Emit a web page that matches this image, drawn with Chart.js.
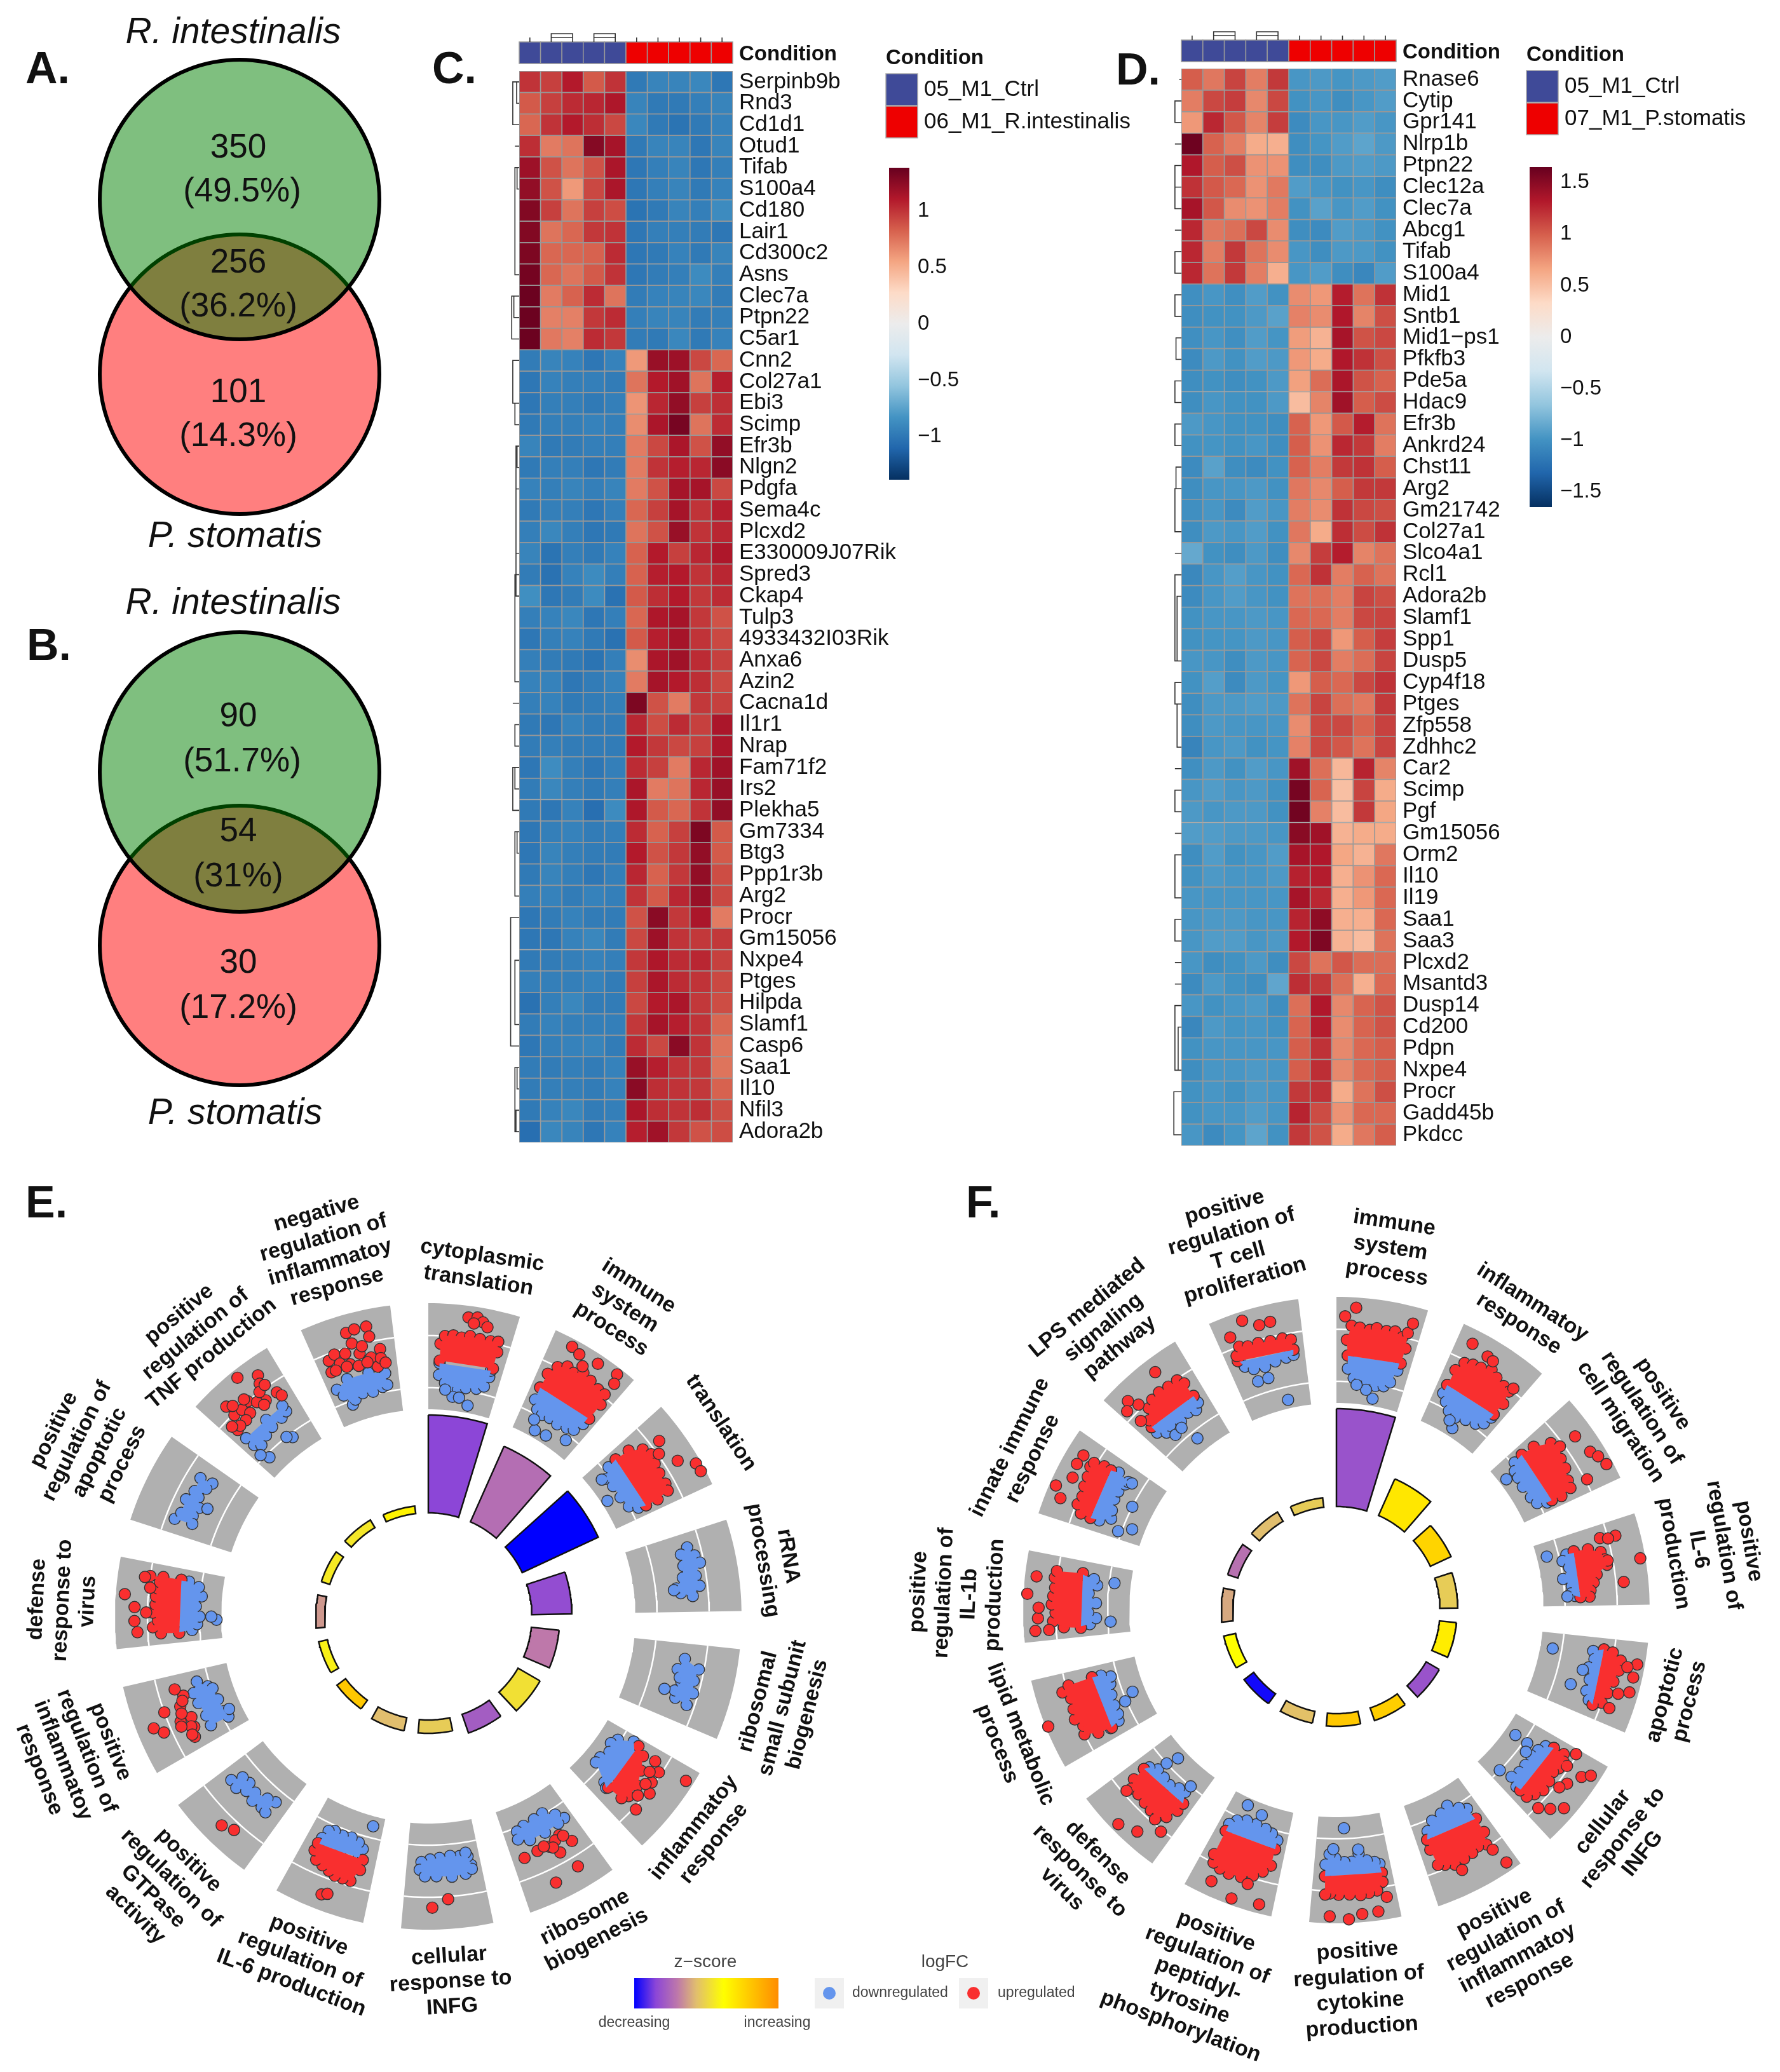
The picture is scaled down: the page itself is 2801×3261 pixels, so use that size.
<!DOCTYPE html>
<html>
<head>
<meta charset="utf-8">
<title>Venn, heatmap and GO circle panels</title>
<script src="https://cdn.jsdelivr.net/npm/chart.js@4/dist/chart.umd.js"></script>
<style>
  body { margin: 0; background: #fff; width: 2801px; height: 3261px; position: relative; overflow: hidden; }
  canvas { position: absolute; }
</style>
</head>
<body>
<script>
// ## DATA ##

const vennNames = ["R. intestinalis", "P. stomatis"];
const aCounts = [350, 256, 101];
const aShares = ["(49.5%)", "(36.2%)", "(14.3%)"];
const bCounts = [90, 54, 30];
const bShares = ["(51.7%)", "(31%)", "(17.2%)"];

const cGenes = ["Serpinb9b","Rnd3","Cd1d1","Otud1","Tifab","S100a4","Cd180","Lair1","Cd300c2","Asns","Clec7a","Ptpn22","C5ar1","Cnn2","Col27a1","Ebi3","Scimp","Efr3b","Nlgn2","Pdgfa","Sema4c","Plcxd2","E330009J07Rik","Spred3","Ckap4","Tulp3","4933432I03Rik","Anxa6","Azin2","Cacna1d","Il1r1","Nrap","Fam71f2","Irs2","Plekha5","Gm7334","Btg3","Ppp1r3b","Arg2","Procr","Gm15056","Nxpe4","Ptges","Hilpda","Slamf1","Casp6","Saa1","Il10","Nfil3","Adora2b"];
const cZ = [
[1,.95,1.1,.85,1,-.98,-.92,-.92,-.9,-1],[.85,.95,1.03,1.05,1.12,-.92,-.98,-.98,-.95,-.92],[.8,1,1.1,1.02,.92,-.9,-.98,-1.02,-.98,-.93],
[1.02,.72,.75,1.27,1.15,-.98,-.92,-.92,-1,-.92],[1.18,.88,.75,.88,1.13,-1,-.95,-.92,-1,-.95],[1.22,.88,.6,.92,1.13,-1,-.95,-.92,-.98,-.93],
[1.28,.95,.75,.95,.9,-1.02,-.98,-.92,-.95,-.88],[1.28,.75,.8,.98,1,-1,-.95,-.95,-.97,-1],[1.3,.8,.8,.82,1.03,-1,-.98,-.93,-.98,-.92],
[1.33,.8,.75,.85,1,-1,-.97,-.95,-.88,-.95],[1.36,.72,.82,1.03,.75,-.97,-.93,-.92,-.9,-.97],[1.36,.7,.7,.98,1.03,-.95,-.92,-.92,-.97,-.95],
[1.36,.73,.7,1.03,.98,-.97,-.98,-.9,-.98,-.93],[-.97,-.92,-.93,-1,-.93,.6,1.2,1.18,.92,.8],[-1,-.93,-.95,-.95,-.97,.75,1.1,1.17,.75,1.08],
[-1,-.95,-.95,-.98,-.95,.62,1.05,1.22,.95,1.02],[-.98,-.95,-.95,-.93,-.95,.65,1.13,1.32,.75,1.03],[-.92,-.98,-.97,-.95,-.95,.72,.92,1.13,.88,1.22],
[-.98,-.95,-.95,-1,-.97,.72,1,1.08,1.05,1.25],[-.93,-.95,-.92,-.95,-.92,.72,.88,1.15,1.15,.92],[-.98,-.95,-.95,-1,-.95,.8,.95,1.15,1,1.08],
[-.95,-.9,-.95,-1,-.98,.75,.88,1.2,1,1.05],[-.92,-1.02,-.95,-.98,-.93,.82,1.1,.95,1.05,1.12],[-.97,-1.03,-.93,-.88,-.95,.82,1.08,1.1,1,1.05],
[-.85,-1,-.97,-.88,-1.03,.85,1.02,1.1,.98,1.03],[-.95,-.93,-.9,-1,-.95,.8,1.12,1.15,.98,.88],[-1,-.95,-.93,-.98,-1.03,.85,1.08,1.15,1,.92],
[-.95,-.97,-.98,-1.02,-.95,.65,1.13,1.17,1.03,.95],[-.93,-.93,-1,-.97,-.93,.72,1.15,1.1,1.02,.92],[-.95,-.93,-.98,-.97,-.95,1.3,.88,.72,.98,.95],
[-.98,-1,-.93,-.97,-.97,1.05,.9,1.03,.95,1.13],[-.97,-.95,-.97,-.97,-.97,1.1,.98,.92,.95,1.13],[-1,-.87,-.95,-1,-.95,1.03,.95,.72,1.05,1.17],
[-.97,-.9,-.95,-.98,-.95,1.13,.72,.75,1.05,1.2],[-.98,-1,-.93,-1.05,-.88,1.12,.85,.8,1,1.22],[-1,-.95,-.93,-.97,-.95,1.03,.82,.95,1.3,.85],
[-1,-.92,-.95,-.97,-.97,1.1,.88,.98,1.22,.85],[-.98,-.92,-.95,-1,-.95,1.05,.82,.98,1.22,.9],[-.95,-.93,-.97,-.93,-.95,1,.85,1.05,1.2,.92],
[-1,-.97,-.93,-.97,-.97,.88,1.25,.98,1.13,.72],[-1,-1,-.93,-.9,-.97,.92,1.18,1,.98,.98],[-.98,-.97,-.95,-.93,-.95,.98,1.12,1.03,1.05,.95],
[-.95,-.95,-.95,-.93,-.97,.95,1.13,1.03,1,.92],[-1.03,-.95,-.9,-.97,-.97,.92,1.1,1.13,.98,.9],[-.97,-.93,-.95,-.95,-.95,.98,1.15,1.08,1,.8],
[-1,-.95,-.93,-.92,-.97,1.03,.92,1.25,1,.75],[-.97,-.97,-.95,-.97,-.93,1.2,1.08,1,.98,.75],[-.97,-.95,-.95,-.97,-.93,1.25,1.02,1,.98,.82],
[-.98,-.93,-.9,-.97,-.95,1.13,1.02,1,1.02,.9],[-1.05,-.9,-.92,-1,-.93,1.08,1.17,.98,.88,.9]
];
const cDendro = [[0,1,.12],[0,2,.3],[3,3,.2],[4,5,.1],[4,9,.2],[10,11,.25],[10,12,.35],[13,15,.3],[15,16,.2],[17,18,.1],[17,22,.15],[19,24,.15],[23,28,.2],[29,29,.3],[30,31,.2],[32,33,.2],[32,34,.3],[35,38,.2],[35,36,.1],[39,45,.4],[41,44,.2],[46,49,.2],[46,47,.1],[48,49,.15]];

const dGenes = ["Rnase6","Cytip","Gpr141","Nlrp1b","Ptpn22","Clec12a","Clec7a","Abcg1","Tifab","S100a4","Mid1","Sntb1","Mid1\u2212ps1","Pfkfb3","Pde5a","Hdac9","Efr3b","Ankrd24","Chst11","Arg2","Gm21742","Col27a1","Slco4a1","Rcl1","Adora2b","Slamf1","Spp1","Dusp5","Cyp4f18","Ptges","Zfp558","Zdhhc2","Car2","Scimp","Pgf","Gm15056","Orm2","Il10","Il19","Saa1","Saa3","Plcxd2","Msantd3","Dusp14","Cd200","Pdpn","Nxpe4","Procr","Gadd45b","Pkdcc"];
const dZ = [
[1,.88,1.12,.85,1.17,-.97,-.95,-.98,-.95,-.93],[.85,1.1,1.15,.8,1.1,-1,-.97,-1.03,-.97,-.93],[.72,1.25,1.03,.82,1.15,-1.05,-.97,-.97,-.93,-.97],
[1.62,.98,.85,.62,.6,-1.03,-.98,-.93,-.88,-.95],[1.33,1,1.07,.75,.75,-1.03,-1.03,-.95,-.93,-.95],[1.2,1.02,.95,.75,.87,-.93,-.97,-1,-.97,-1.03],
[1.37,1.03,.78,.75,.85,-1,-.9,-.97,-.93,-1],[1.25,.88,.92,1.1,.78,-1.03,-1.05,-.93,-.95,-1],[1.25,.85,1.17,.9,.78,-.97,-1.03,-.95,-.95,-1],
[1.25,.9,1.17,.85,.6,-.97,-.93,-1.03,-1.08,-.93],[-1.02,-.97,-1.02,-.93,-1,.78,.72,1.3,.9,1.2],[-1.03,-1,-1,-.95,-.9,.83,.78,1.33,.82,1.07],
[-1.02,-.97,-1.02,-.93,-.98,.7,.58,1.37,1.05,1.1],[-1.05,-.95,-1,-.93,-.95,.72,.62,1.33,1.2,1.07],[-1.03,-1,-1.03,-1,-.95,.68,.93,1.35,1.05,.98],
[-1.03,-.97,-1,-1,-.95,.52,.82,1.4,1,1.08],[-.95,-.97,-1,-1,-1.03,.98,.72,1.02,1.3,.9],[-1,-.98,-1,-.97,-1.03,1,.75,1.25,1.17,.85],
[-1.05,-.9,-1.03,-1.05,-1,.98,.85,1.17,1.2,1],[-1.03,-.97,-.97,-.95,-1,.88,.8,1,1.17,1.17],[-1.02,-.97,-1.05,-.93,-.97,.85,.78,1.2,1.1,1.07],
[-1.03,-.95,-.97,-.93,-1,.88,.62,1.22,1.08,1.2],[-.85,-1,-1.03,-.95,-1.03,.8,1.15,1.3,.82,.9],[-1.07,-.97,-.92,-.97,-1,.95,1.2,.85,.98,.9],
[-1.05,-.97,-.93,-.97,-1,.9,.92,.85,1.12,1.07],[-1,-.97,-.97,-.95,-.97,.95,.95,.85,1.1,1.12],[-1,-.98,-.98,-.95,-.97,1,1.1,.72,1,1.15],
[-.97,-.97,-1.03,-.95,-.97,.97,1.1,.85,.93,1.12],[-1,-.92,-1.05,-.95,-.98,.72,1,.95,1.1,1.2],[-1.03,-.95,-.95,-.93,-.95,.9,1.12,.92,.87,1.17],
[-1.03,-.95,-.97,-.97,-.97,.78,1.1,1.1,.97,1.13],[-1.1,-.97,-.95,-1,-.98,.83,1.1,1.03,.9,1.12],[-1.02,-.95,-1,-.93,-.97,1.4,.92,.55,1.27,.82],
[-.97,-.93,-.97,-.95,-1,1.58,.97,.5,1.12,.62],[-.95,-.97,-.95,-.95,-1,1.6,.83,.52,1.17,.65],[-.93,-.93,-.95,-.95,-.97,1.5,1.4,.58,.62,.62],
[-1.03,-.93,-1,-.97,-.93,1.37,1.33,.65,.58,.88],[-1,-.95,-.97,-.97,-.95,1.28,1.3,.6,.75,.95],[-.97,-.97,-.97,-.97,-.97,1.37,1.25,.6,.72,.95],
[-.97,-.95,-.95,-.97,-.97,1.27,1.48,.6,.6,.95],[-.97,-.93,-.93,-.97,-.95,1.32,1.55,.58,.52,.9],[-.97,-1.03,-1,-.95,-1.03,1.1,.9,1.03,.93,.93],
[-1.05,-.95,-1,-1.03,-.87,1.22,1.17,.92,.6,.95],[-.97,-1,-.97,-.95,-1.03,.92,1.33,.8,.97,1.05],[-1.08,-.95,-.98,-.97,-1,.97,1.3,.78,.97,1.05],
[-1,-.97,-.97,-.97,-.97,1,1.2,.8,.95,1],[-1.03,-.97,-.97,-.95,-.97,1,1.22,.8,.95,1],[-1,-.97,-1,-.95,-.97,1.17,1.2,.62,.9,1.07],
[-1,-.97,-.97,-.93,-.97,1.27,1.08,.75,.95,.95],[-.97,-1.05,-.98,-.88,-1,1.17,1.05,.62,.88,1]
];
const dDendro = [[0,0,.1],[1,2,.3],[3,3,.3],[4,5,.3],[5,6,.3],[7,7,.3],[8,9,.3],[10,11,.3],[12,13,.25],[14,15,.3],[16,17,.3],[18,19,.25],[19,21,.3],[22,22,.3],[23,27,.3],[24,27,.2],[28,29,.3],[29,31,.2],[32,32,.3],[33,34,.3],[35,35,.3],[36,38,.3],[39,40,.3],[41,41,.3],[42,42,.3],[43,46,.3],[44,46,.15],[47,49,.35]];

const colDendroBoxes = [[1.5, 2.5], [3.5, 4.5]];
const colTreatment = ["#3f4a98", "#3f4a98", "#3f4a98", "#3f4a98", "#3f4a98", "#ee0000", "#ee0000", "#ee0000", "#ee0000", "#ee0000"];

const eTerms = [["cytoplasmic","translation"],["immune","system","process"],["translation"],["rRNA","processing"],["ribosomal","small subunit","biogenesis"],["inflammatoy","response"],["ribosome","biogenesis"],["cellular","response to","INFG"],["positive","regulation of","IL-6 production"],["positive","regulation of","GTPase","activity"],["positive","regulation of","inflammatoy","response"],["defense","response to","virus"],["positive","regulation of","apoptotic","process"],["positive","regulation of","TNF production"],["negative","regulation of","inflammatoy","response"]];
const eBars = [15.4,13,13.2,6.3,4.4,4,3.1,2.1,2.1,1.7,1.4,1.4,1.4,1.4,1.2];
const eZscore = [-.7,-.46,-1,-.66,-.4,.06,-.56,-.06,-.14,.6,.16,-.28,.12,.1,.32];
// each pair below is position across the sector (0-100), logFC
const eUpRings = [
[15,.05,15,.7,20,1,30,1.05,40,1,50,1.1,62,1.05,75,1.05,84,1.1,86,.7,86,.05],
[12,0,13,.6,20,1,30,1.2,40,1.1,50,1.3,62,1.2,75,1.1,85,1.1,89,.7,89,0],
[12,-.4,14,.2,24,.65,35,.8,47,.7,60,.65,75,.65,84,.6,88,.1,88,-.4],
[],[],
[10,-.3,18,.05,35,.3,53,.55,70,.55,78,.4,80,-.25],
[],[],
[18,-.1,18,.3,26,.8,36,.8,46,.8,55,.7,65,.6,75,.5,82,.2,82,-.1],
[],[],
[13,-.2,14,.5,22,.8,30,.6,40,.8,50,.7,60,.7,70,.65,78,.6,84,1,85,.5,85,-.2],
[],[],[]
];
const eUpDots = [
[45,1.8,55,1.85,62,1.7,52,1.6,68,1.55],
[24,1.95,35,1.83,58,1.9,82,2,86,1.65,45,1.5],
[28,1.35,59,1.5,72,2.05,82,2.07,40,1.05],
[],[],
[15,.55,24,.9,39,.9,51,1.1,76,1.1,15,1.95,30,.6,45,.75,62,.8,68,.3],
[30,0,20,.45,49,.2,40,.6,65,.15,84,.2,30,1.4,61,1.55,38,.1,26,.1,45,.3,55,.1],
[66,1.4,47,1.1],
[53,1.65,47,1.55],
[51,1.5,37,1.3],
[28,.15,41,.1,41,.55,71,.1,82,.35,59,.35,59,1,46,1.6,37,1.3,16,.3,30,.25,20,.35,50,.4,65,.2,35,.6],
[60,1.9,46,1.5,30,1.5,17,1.4,82,1.2,70,.95,40,1.05],
[],
[55,1.95,14,.45,24,1.4,75,1.55,82,.6,71,1.25,47,1,24,.95,65,.6,35,.9,40,.6,30,.5,55,.75,65,1,75,1.1,20,.5,45,1.15,85,.4,60,.5,30,1.25,12,.7],
[14,.3,16,.75,25,.9,28,.5,38,.8,49,1.1,40,.35,55,.65,60,.9,68,.4,74,0,81,.65,46,1.55,70,1.6,71,1.2,56,1.6,20,.3,50,.2,62,.25,35,.3,80,.3,85,.1]
];
const eDownRings = [
[15,-.05,15,-.5,24,-.8,34,-.9,44,-1,55,-.9,70,-.85,80,-.7,84,-.3,84,-.05],
[12,0,13,-.5,22,-.8,32,-.9,44,-.85,58,-.9,72,-.8,82,-.7,87,-.3,87,0],
[12,-.4,14,-.8,25,-1.15,40,-1.1,60,-1.1,78,-1,86,-.7,88,-.4],
[18,.5,30,.7,40,.85,55,.6,68,.7,80,.4,75,-.05,68,-.2,55,.1,40,.2,25,.2],
[20,.2,30,.8,45,.7,60,.8,76,.7,72,.2,63,.1,50,.25,35,0],
[8,-.55,18,-1.1,28,-1.25,40,-1.1,55,-1.25,65,-1.25,78,-.5,82,-.3,60,-.3,20,-.3],
[12,-.45,20,-.75,35,-1.05,50,-1,68,-.95,80,-.85,83,-.55,68,-.35,45,-.35,23,-.4],
[13,-.1,16,-.45,27,-.5,40,-.55,55,-.5,68,-.45,80,-.35,82,-.05,75,.2,60,.2,40,.25,22,.2,13,.05],
[24,-.15,22,-.5,30,-.7,42,-.8,55,-.75,68,-.8,76,-.7,80,-.35,80,-.1,50,-.15],
[20,-.55,32,-.45,50,-.3,65,-.4,77,-.35,84,.05,72,.1,60,-.1,45,0,30,-.05,22,0],
[84,-.55,73,-.9,68,-1.05,50,-1.1,30,-1.15,20,-1.2,20,-.45,35,-.45,55,-.35,70,-.3],
[14,-.2,16,-.7,24,-.9,35,-1,50,-.85,65,-1.05,78,-.9,84,-.5,84,-.2],
[18,.65,28,.5,46,.55,60,.4,78,.45,80,-.05,70,.05,55,.15,43,-.05,30,.05,20,-.05],
[14,0,15,-.4,22,-.6,36,-.45,50,-.35,68,-.3,78,-.2,78,.05,50,0],
[12,-.4,18,-.7,26,-1.15,32,-1,45,-.85,60,-.9,75,-.8,82,-.75,82,-.3,60,-.15,30,-.15]
];
const eDownDots = [
[37,-1.3,47,-1.3,62,-1.55,25,-1.05],[34,-1.55,53,-1.5,82,-1.2,25,-1.2],[54,-1.6,22,-1.3],[70,-.3],[65,-.3,45,.15],
[],[],[18,-.6],[16,-1.45],[],
[30,-1.35],[30,-1.65,35,-1.45],[47,-.35],[18,-1.15,64,-1.15,57,-1,11,-.85],[]
];

const fTerms = [["immune","system","process"],["inflammatoy","response"],["positive","regulation of","cell migration"],["positive","regulation of","IL-6","production"],["apoptotic","process"],["cellular","response to","INFG"],["positive","regulation of","inflammatoy","response"],["positive","regulation of","cytokine","production"],["positive","regulation of","peptidyl-","tyrosine","phosphorylation"],["defense","response to","virus"],["lipid metabolic","process"],["positive","regulation of","IL-1b","production"],["innate immune","response"],["LPS mediated","signaling","pathway"],["positive","regulation of","T cell","proliferation"]];
const fBars = [15.4,6.3,3.6,2.8,2.7,2.4,2.1,2,1.9,1.9,1.9,1.8,1.7,1.7,1.5];
const fZscore = [-.62,.4,.52,-.06,.36,-.62,.56,.6,-.12,-.96,.24,-.22,-.44,-.14,-.06];
const fUpRings = [
[15,0,13,.6,18,1.15,28,1.1,40,1.05,48,1.15,60,1.1,70,1.15,80,1,85,1.2,87,.6,86,0],
[13,-.15,14,.5,20,.9,30,1,40,1.05,52,1.2,62,1.05,75,.95,84,.9,88,.4,87,-.15],
[12,-.5,14,.05,24,.65,34,.85,47,.6,60,.55,75,.4,85,.35,89,-.1,88,-.5],
[24,-.4,26,.15,33,.6,43,.7,50,.75,60,.3,70,.15,80,0,88,-.05,88,-.4],
[14,.6,16,.95,24,1.3,36,1.3,50,1.2,65,1.1,78,1,84,.7],
[14,.1,14,.55,22,.7,32,.7,40,.6,52,.7,65,.75,76,.6,85,.45,85,.1],
[13,-.15,14,.45,20,.9,30,.8,40,.9,52,.95,65,1,76,.85,84,.75,86,.1,85,-.3],
[13,.45,14,.8,22,1.1,32,1.15,42,1.2,55,1.15,68,1.15,78,1.1,84,1.15,85,.45],
[14,-.3,14,.35,22,.65,32,.9,45,1.1,60,1.15,72,1.1,82,1,86,.7,86,-.3],
[85,-.2,83,.35,76,.65,65,.6,52,.65,40,.7,29,.75,20,.5,14,.05,14,-.3],
[14,-.05,16,.5,22,1,32,.9,43,1.1,55,1,68,.95,78,1.2,84,.9,86,-.05],
[12,.05,14,.7,22,1.1,32,1,42,1.15,52,1.1,62,1.05,74,1.1,82,1.05,84,.05],
[15,.3,16,.7,25,.95,36,.9,48,1,60,1.05,72,1.15,78,1.1,81,.7,81,.4],
[16,.2,20,.45,30,.8,40,.95,52,1,65,.95,78,.95,83,.7,84,.1],
[14,.5,15,.7,22,1,32,.9,45,.9,60,.85,75,.85,85,.75,86,.35]
];
const fUpDots = [
[22,1.85,88,1.6,10,1.5],[18,1.7,40,1.55,48,1.5,86,1.1],[35,1.55,59,1.7,68,1.87,80,2,85,1.07],
[16,.7,18,1.3,19,1,49,2.05,73,1.3,45,.8],[25,1.95,40,1.9,57,1.9,81,1.35,30,1.6,62,1.5],
[6,.95,41,1.3,25,1.6,18,1.87,65,1.8,76,1.43,85,1.07,24,.9,50,1.15],[12,1.9,17,1.2,60,1.3],
[78,1.98,57,2.1,24,1.9,42,1.93,12,1.4],[47,2,16,1.9,35,1.27,75,1.68],[78,.85,29,.85,56,1.95,35,1.65,14,1.07],
[47,2.15],[53,2.1,73,1.8,26,1.68,12,1.8,12,1.27,38,1.65],[79,1.6,35,2,24,1.65,51,1.55,67,1.65],
[63,1.7,24,1.17,18,1.55,9,1.3,12,.66],[35,1.9,52,1.55,65,1.57,16,1.45]
];
const fDownRings = [
[15,0,16,-.5,25,-.85,35,-.9,45,-1,58,-1.05,70,-1,78,-.8,84,-.3,84,0],
[13,-.15,13,-.5,22,-.75,32,-1,45,-1.1,60,-.95,75,-.85,84,-.65,87,-.3,87,-.15],
[12,-.5,14,-.9,24,-1.1,35,-1.15,50,-1.2,70,-1.15,82,-1.05,88,-.7,88,-.5],
[26,-.4,26,-.7,34,-.9,45,-.7,60,-1,72,-.7,82,-.75,86,-.6,88,-.4],
[14,.6,18,.2,28,.3,40,.15,55,.3,70,.3,80,.5,84,.7],
[14,.1,18,-.2,28,-.35,40,-.45,55,-.4,68,-.4,80,-.5,85,-.1,84,.1],
[14,-.15,16,-.65,25,-.85,38,-1.15,52,-1,68,-.9,80,-.6,85,-.3],
[13,.45,14,.1,20,0,30,-.1,40,-.4,50,-.1,60,-.1,72,-.25,80,-.4,85,0,85,.45],
[14,-.3,14,-.65,24,-.85,35,-.95,50,-1,65,-1,78,-.85,86,-.6,86,-.3],
[14,-.3,22,-.7,32,-.65,45,-.5,58,-.55,72,-.6,82,-.4,85,-.2],
[14,0,18,-.4,27,-.5,40,-.5,55,-.55,70,-.65,80,-.75,85,-.4,86,-.05],
[14,.05,16,-.3,24,-.55,32,-.25,45,-.55,58,-.25,70,-.55,78,-.4,82,.05],
[15,.3,16,-.05,24,-.45,35,-.35,50,-.25,62,-.25,75,-.35,80,-.4,84,.1,81,.4],
[16,.2,16,-.1,25,-.35,35,-.25,50,-.4,65,-.3,76,-.4,84,-.2,84,.1],
[16,.45,20,.2,30,0,45,-.05,60,.05,75,.1,85,.15,86,.35]
];
const fDownDots = [
[57,-1.55,45,-1.25,30,-1.1],[50,-1.5,40,-1.3],[26,-1.55],[22,-1.45,86,-.9],[24,-1.35,68,-.35,45,-.05],
[29,-1.4,29,-.85,85,-1,40,-.7],[],[59,-1.4,75,-.6,40,-.55],[73,-1.55,47,-1.4],[64,-1.45,21,-1,70,-1],
[48,-1.35,39,-.95],[76,-1.2,18,-1.1],[81,-.55,52,-1,11,-.87,21,-1.35],[53,-1.3,32,-.65,45,-.6],[65,-1.5,30,-.5,45,-.5]
];

// ## HELPERS ##

const SANS = '"Liberation Sans", Arial, sans-serif';
const UP_COLOR = "#f92f2f";
const DOWN_COLOR = "#6495ed";

Chart.defaults.animation = false;
Chart.defaults.plugins.legend.display = false;
Chart.defaults.plugins.tooltip.enabled = false;

function addCanvas(left, top, width, height) {
  const canvas = document.createElement("canvas");
  canvas.width = width;
  canvas.height = height;
  canvas.style.left = left + "px";
  canvas.style.top = top + "px";
  document.body.appendChild(canvas);
  return canvas.getContext("2d");
}

const baseOptions = { responsive: false, devicePixelRatio: 1, events: [], layout: { padding: 0, autoPadding: false } };

function textPlugin(items) {
  return {
    id: "texts",
    afterDatasetsDraw(chart) {
      const c = chart.ctx;
      items.forEach((t) => {
        c.save();
        c.font = t.font;
        c.fillStyle = t.color || "#111";
        c.textAlign = t.align || "center";
        c.textBaseline = "middle";
        c.translate(t.x, t.y);
        c.fillText(t.text, 0, 0);
        c.restore();
      });
    },
  };
}

function mix(a, b, t) {
  return a.map((v, i) => Math.round(v + (b[i] - v) * t));
}

function ramp(stops, t) {
  t = Math.max(0, Math.min(1, t));
  for (let i = 1; i < stops.length; i++) {
    if (t <= stops[i][0]) {
      const s = (t - stops[i - 1][0]) / (stops[i][0] - stops[i - 1][0]);
      return "rgb(" + mix(stops[i - 1][1], stops[i][1], s).join(",") + ")";
    }
  }
  return "rgb(" + stops[stops.length - 1][1].join(",") + ")";
}

const rdbu = [[5,48,97],[33,102,172],[67,147,195],[146,197,222],[209,229,240],[236,236,236],[253,219,199],[244,165,130],[214,96,77],[178,24,43],[103,0,31]]
  .map((rgb, i) => [i / 10, rgb]);
const zRamp = [[0,[0,0,255]],[.15,[140,70,215]],[.3,[190,120,170]],[.43,[225,190,110]],[.62,[255,255,0]],[.8,[255,200,0]],[1,[255,140,0]]];

// ## VENN ##

function createVenn(top, letter, counts, shares, layout) {
  const ctx = addCanvas(0, top, 680, 900);
  const items = [
    { text: letter.text, x: letter.x, y: letter.y, font: "bold 70px " + SANS, align: "left" },
    { text: vennNames[0], x: 367, y: layout.names[0], font: "italic 57px " + SANS },
    { text: vennNames[1], x: 370, y: layout.names[1], font: "italic 57px " + SANS },
  ];
  counts.forEach((count, i) => {
    items.push({ text: String(count), x: 375, y: layout.count[i], font: "53px " + SANS });
    items.push({ text: shares[i], x: i === 0 ? 381 : 375, y: layout.count[i] + layout.shareGap, font: "53px " + SANS });
  });
  new Chart(ctx, {
    type: "bubble",
    data: {
      datasets: [
        { data: [{ x: 377, y: layout.circles[0], r: 220 }], backgroundColor: "rgba(0,128,0,0.5)", borderColor: "#000", borderWidth: 6 },
        { data: [{ x: 377, y: layout.circles[1], r: 220 }], backgroundColor: "rgba(255,0,0,0.5)", borderColor: "#000", borderWidth: 6 },
      ],
    },
    options: {
      ...baseOptions,
      scales: {
        x: { display: false, min: 0, max: 680 },
        y: { display: false, min: 0, max: 900, reverse: true },
      },
    },
    plugins: [textPlugin(items)],
  });
}

createVenn(0, { text: "A.", x: 40, y: 112 }, aCounts, aShares, { circles: [314, 589], count: [233, 414, 618], shareGap: 69, names: [52, 845] });
createVenn(900, { text: "B.", x: 42, y: 120 }, bCounts, bShares, { circles: [315, 588], count: [228, 409, 616], shareGap: 71, names: [50, 853] });

// ## HEATMAPS ##

function createHeatmap(cfg) {
  const padLeft = cfg.left - cfg.canvasLeft;
  const padTop = cfg.top - 30;
  const ctx = addCanvas(cfg.canvasLeft, 30, padLeft + cfg.width + cfg.rightWidth, padTop + cfg.height + 40);
  const items = [
    { text: cfg.letter, x: cfg.letterX - cfg.canvasLeft, y: cfg.letterY - 30, font: "bold 70px " + SANS, align: "left" },
    { text: "Condition", x: cfg.left + cfg.width + 10 - cfg.canvasLeft, y: cfg.annotTop + 20 - 30, font: "bold 33px " + SANS, align: "left" },
    { text: "Condition", x: cfg.legendX - cfg.canvasLeft, y: cfg.legendTop - 24 - 30, font: "bold 33px " + SANS, align: "left" },
    { text: cfg.legendNames[0], x: cfg.legendX + 60 - cfg.canvasLeft, y: cfg.legendTop + 25 - 30, font: "35px " + SANS, align: "left" },
    { text: cfg.legendNames[1], x: cfg.legendX + 60 - cfg.canvasLeft, y: cfg.legendTop + 76 - 30, font: "35px " + SANS, align: "left" },
  ];
  const decor = {
    id: "heatDecor",
    beforeDatasetsDraw(chart) {
      const c = chart.ctx;
      const { x, y } = chart.scales;
      const annotY = cfg.annotTop - 30;
      c.save();
      // condition strip
      colTreatment.forEach((color, i) => {
        c.fillStyle = color;
        c.fillRect(x.getPixelForValue(i), annotY, x.getPixelForValue(i + 1) - x.getPixelForValue(i), 34);
        c.strokeStyle = "#999";
        c.lineWidth = 1.5;
        c.strokeRect(x.getPixelForValue(i), annotY, x.getPixelForValue(i + 1) - x.getPixelForValue(i), 34);
      });
      // legend keys
      ["#3f4a98", "#ee0000"].forEach((color, i) => {
        const kx = cfg.legendX - cfg.canvasLeft;
        const ky = cfg.legendTop - 30 + i * 51;
        c.fillStyle = color;
        c.fillRect(kx, ky, 50, 50);
        c.strokeStyle = "#aaa";
        c.strokeRect(kx, ky, 50, 50);
      });
      // dendrograms
      c.strokeStyle = "#333";
      c.lineWidth = 1.6;
      c.beginPath();
      cfg.dendro.forEach(([a, b, depth]) => {
        const x0 = x.getPixelForValue(0);
        const xd = x.getPixelForValue(-depth);
        c.moveTo(x0, y.getPixelForValue(a));
        c.lineTo(xd, y.getPixelForValue(a));
        c.lineTo(xd, y.getPixelForValue(b));
        c.lineTo(x0, y.getPixelForValue(b));
      });
      for (let i = 0; i < 10; i++) {
        c.moveTo(x.getPixelForValue(i + 0.5), annotY);
        c.lineTo(x.getPixelForValue(i + 0.5), annotY - 7);
      }
      colDendroBoxes.forEach(([a, b]) => {
        c.rect(x.getPixelForValue(a), annotY - 13, x.getPixelForValue(b) - x.getPixelForValue(a), 6);
      });
      c.stroke();
      c.restore();
    },
  };
  new Chart(ctx, {
    type: "bar",
    data: {
      labels: cfg.genes,
      datasets: colTreatment.map((_, col) => ({
        data: cfg.genes.map(() => [col, col + 1]),
        backgroundColor: cfg.z.map((row) => ramp(rdbu, (row[col] + cfg.zMax) / (2 * cfg.zMax))),
        borderColor: "#979797",
        borderWidth: 1.2,
        borderSkipped: false,
        grouped: false,
        barPercentage: 1,
        categoryPercentage: 1,
      })),
    },
    options: {
      ...baseOptions,
      indexAxis: "y",
      layout: { autoPadding: false, padding: { left: padLeft, top: padTop, right: 0, bottom: 40 } },
      scales: {
        x: { display: false, min: 0, max: 10 },
        y: {
          position: "right",
          afterFit: (scale) => { scale.width = cfg.rightWidth; },
          grid: { display: false, drawTicks: false },
          border: { display: false },
          ticks: { autoSkip: false, padding: 10, color: "#111", font: { family: SANS, size: 35 } },
        },
      },
    },
    plugins: [decor, textPlugin(items)],
  });
}

function createColorBar(left, top, width, height, zMax) {
  const ctx = addCanvas(left, top - 40, width + 110, height + 80);
  new Chart(ctx, {
    type: "bar",
    data: {
      labels: ["z"],
      datasets: [{
        data: [[-zMax, zMax]],
        barPercentage: 1,
        categoryPercentage: 1,
        backgroundColor(context) {
          const area = context.chart.chartArea;
          if (!area) return "#ccc";
          const g = context.chart.ctx.createLinearGradient(0, area.bottom, 0, area.top);
          rdbu.forEach(([t, rgb]) => g.addColorStop(t, "rgb(" + rgb.join(",") + ")"));
          return g;
        },
      }],
    },
    options: {
      ...baseOptions,
      layout: { autoPadding: false, padding: { top: 40, bottom: 40 } },
      scales: {
        x: { display: false },
        y: {
          position: "right",
          min: -zMax,
          max: zMax,
          afterFit: (scale) => { scale.width = 110; },
          grid: { display: false, drawTicks: false },
          border: { display: false },
          ticks: {
            stepSize: 0.5,
            includeBounds: false,
            padding: 13,
            color: "#111",
            font: { family: SANS, size: 33 },
            callback: (v) => String(v).replace("-", "\u2212"),
          },
        },
      },
    },
  });
}

createHeatmap({
  genes: cGenes, z: cZ, dendro: cDendro, zMax: 1.38,
  canvasLeft: 677, left: 817, top: 112, width: 336, height: 1686, rightWidth: 640, annotTop: 66,
  letter: "C.", letterX: 680, letterY: 112,
  legendX: 1394, legendTop: 116, legendNames: ["05_M1_Ctrl", "06_M1_R.intestinalis"],
});
createColorBar(1399, 264, 32, 491, 1.38);

createHeatmap({
  genes: dGenes, z: dZ, dendro: dDendro, zMax: 1.65,
  canvasLeft: 1749, left: 1859, top: 108, width: 338, height: 1695, rightWidth: 604, annotTop: 63,
  letter: "D.", letterX: 1756, letterY: 114,
  legendX: 2402, legendTop: 111, legendNames: ["05_M1_Ctrl", "07_M1_P.stomatis"],
});
createColorBar(2407, 263, 35, 535, 1.65);

// ## GO CIRCLES ##

const SECTOR_STEP = 24;
const SECTOR_SPAN = 17;
const BAR_BASE = 163;
const BAND_INNER = 326;
const BAND_OUTER = 493;
const LFC_ZERO = 401;
const LFC_UNIT = 41;

function polar(deg, r) {
  const a = (deg * Math.PI) / 180;
  return { x: r * Math.sin(a), y: r * Math.cos(a) };
}

function wedge(i, rIn, rOut) {
  const start = i * SECTOR_STEP;
  const pts = [];
  for (let d = 0; d <= SECTOR_SPAN; d++) pts.push(polar(start + d, rOut));
  for (let d = SECTOR_SPAN; d >= 0; d--) pts.push(polar(start + d, rIn));
  pts.push(pts[0]);
  return pts;
}

function arc(i, r) {
  const pts = [];
  for (let d = 0; d <= SECTOR_SPAN; d++) pts.push(polar(i * SECTOR_STEP + d, r));
  return pts;
}

function sectorPoints(i, flat) {
  const pts = [];
  for (let k = 0; k < flat.length; k += 2) {
    pts.push(polar(i * SECTOR_STEP + (SECTOR_SPAN * flat[k]) / 100, LFC_ZERO + LFC_UNIT * flat[k + 1]));
  }
  return pts;
}

function shapeDataset(data, fill, border, width, order) {
  return { data, showLine: true, pointRadius: 0, tension: 0, fill: "shape", clip: false, backgroundColor: fill, borderColor: border, borderWidth: width, order };
}

function createCircle(cfg) {
  const ctx = addCanvas(cfg.left, cfg.top, cfg.width, cfg.height);
  const datasets = [];
  cfg.terms.forEach((_, i) => {
    datasets.push(shapeDataset(wedge(i, BAND_INNER, BAND_OUTER), "#b0b0b0", "transparent", 0, 50));
    [LFC_ZERO - LFC_UNIT, LFC_ZERO + LFC_UNIT].forEach((r) => {
      datasets.push({ data: arc(i, r), showLine: true, pointRadius: 0, borderColor: "#fff", borderWidth: 2.5, order: 45 });
    });
    const barColor = ramp(zRamp, (cfg.zscore[i] + 1) / 2);
    datasets.push(shapeDataset(wedge(i, BAR_BASE, BAR_BASE + cfg.bars[i] * 10), barColor, "#111", 2.5, 40));
    if (cfg.downRings[i].length) datasets.push(shapeDataset(sectorPoints(i, cfg.downRings[i]), DOWN_COLOR, "transparent", 0, 11));
    if (cfg.upRings[i].length) datasets.push(shapeDataset(sectorPoints(i, cfg.upRings[i]), UP_COLOR, "transparent", 0, 10));
  });
  const dotData = (rings, dots) => cfg.terms.flatMap((_, i) => sectorPoints(i, rings[i].concat(dots[i])));
  const dotStyle = { pointRadius: 9, pointBorderWidth: 1.4, pointBorderColor: "#333" };
  datasets.push({ data: dotData(cfg.downRings, cfg.downDots), pointBackgroundColor: DOWN_COLOR, order: 21, ...dotStyle });
  datasets.push({ data: dotData(cfg.upRings, cfg.upDots), pointBackgroundColor: UP_COLOR, order: 20, ...dotStyle });

  const labels = {
    id: "termLabels",
    afterDatasetsDraw(chart) {
      const c = chart.ctx;
      const { x, y } = chart.scales;
      cfg.terms.forEach((lines, i) => {
        const mid = i * SECTOR_STEP + SECTOR_SPAN / 2;
        const rot = mid < 90 ? mid : mid < 270 ? mid - 180 : mid - 360;
        const p = polar(mid, Math.max(552, 510 + 22 * lines.length));
        c.save();
        c.font = "bold 34px " + SANS;
        c.fillStyle = "#111";
        c.textAlign = "center";
        c.textBaseline = "middle";
        c.translate(x.getPixelForValue(p.x), y.getPixelForValue(p.y));
        c.rotate((rot * Math.PI) / 180);
        lines.forEach((line, j) => c.fillText(line, 0, (j - (lines.length - 1) / 2) * 40));
        c.restore();
      });
    },
  };

  new Chart(ctx, {
    type: "scatter",
    data: { datasets },
    options: {
      ...baseOptions,
      scales: {
        x: { display: false, min: -cfg.cx, max: cfg.width - cfg.cx },
        y: { display: false, min: cfg.cy - cfg.height, max: cfg.cy },
      },
    },
    plugins: [labels, textPlugin([{ text: cfg.letter, x: cfg.letterX, y: 57, font: "bold 70px " + SANS, align: "left" }])],
  });
}

createCircle({
  left: 0, top: 1840, width: 1400, height: 1421, cx: 674, cy: 704, letter: "E.", letterX: 40,
  terms: eTerms, bars: eBars, zscore: eZscore, upRings: eUpRings, upDots: eUpDots, downRings: eDownRings, downDots: eDownDots,
});
createCircle({
  left: 1400, top: 1840, width: 1401, height: 1421, cx: 703, cy: 694, letter: "F.", letterX: 120,
  terms: fTerms, bars: fBars, zscore: fZscore, upRings: fUpRings, upDots: fUpDots, downRings: fDownRings, downDots: fDownDots,
});

// ## BOTTOM LEGEND ##

function createCircleLegend() {
  const left = 900;
  const top = 3060;
  const ctx = addCanvas(left, top, 900, 150);
  const grey = "#444";
  const items = [
    { text: "z\u2212score", x: 1110 - left, y: 3088 - top, font: "28px " + SANS, color: grey },
    { text: "logFC", x: 1487 - left, y: 3088 - top, font: "28px " + SANS, color: grey },
    { text: "decreasing", x: 998 - left, y: 3184 - top, font: "23px " + SANS, color: grey },
    { text: "increasing", x: 1223 - left, y: 3184 - top, font: "23px " + SANS, color: grey },
    { text: "downregulated", x: 1341 - left, y: 3137 - top, font: "23px " + SANS, color: grey, align: "left" },
    { text: "upregulated", x: 1570 - left, y: 3137 - top, font: "23px " + SANS, color: grey, align: "left" },
  ];
  const back = {
    id: "legendBack",
    beforeDatasetsDraw(chart) {
      const c = chart.ctx;
      const g = c.createLinearGradient(998 - left, 0, 1225 - left, 0);
      zRamp.forEach(([t, rgb]) => g.addColorStop(t, "rgb(" + rgb.join(",") + ")"));
      c.fillStyle = g;
      c.fillRect(998 - left, 3113 - top, 227, 48);
      c.fillStyle = "#f0f0f0";
      c.fillRect(1282 - left, 3113 - top, 46, 48);
      c.fillRect(1509 - left, 3113 - top, 46, 48);
    },
  };
  new Chart(ctx, {
    type: "scatter",
    data: {
      datasets: [
        { data: [{ x: 1305 - left, y: 3137 - top }], pointRadius: 10, pointBorderWidth: 0, pointBackgroundColor: DOWN_COLOR },
        { data: [{ x: 1532 - left, y: 3137 - top }], pointRadius: 10, pointBorderWidth: 0, pointBackgroundColor: UP_COLOR },
      ],
    },
    options: {
      ...baseOptions,
      scales: {
        x: { display: false, min: 0, max: 900 },
        y: { display: false, min: 0, max: 150, reverse: true },
      },
    },
    plugins: [back, textPlugin(items)],
  });
}

createCircleLegend();
</script>
</body>
</html>
